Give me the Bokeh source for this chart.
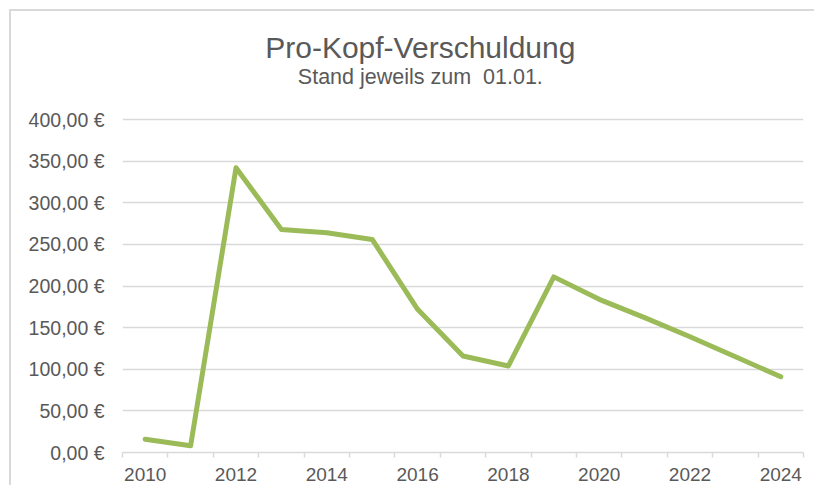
from bokeh.plotting import figure
from bokeh.models import Range1d, FixedTicker, Label, CustomJSTickFormatter
from bokeh.embed import file_html
from bokeh.resources import INLINE

# Data
years = list(range(2010, 2025))
debt = [16, 8, 342, 268, 264, 256, 172, 116, 104, 211, 184, 162, 139, 115, 91]
y_ticks = [0, 50, 100, 150, 200, 250, 300, 350, 400]
x_label_years = [2010, 2012, 2014, 2016, 2018, 2020, 2022, 2024]
title_text = "Pro-Kopf-Verschuldung"
subtitle_text = "Stand jeweils zum \u00a001.01."

FONT = "Liberation Sans"
GREY_TXT = "#595959"
GRID = "#D9D9D9"

# the frame reaches above the 400 line so that the title texts sit inside it
Y_TOP = 519
TITLE_X = 2016.06
TITLE_Y = 486.6
SUB_Y = 451.7

p = figure(width=805, height=476, output_backend="svg", toolbar_location=None,
           x_range=Range1d(years[0] - 0.5, years[-1] + 0.5),
           y_range=Range1d(0, Y_TOP),
           min_border_left=111, min_border_right=13, min_border_bottom=35, min_border_top=9)
p.title.visible = False
p.styles = {"margin-left": "11px", "margin-top": "11px",
            "margin-right": "-30px", "margin-bottom": "-30px",
            "box-shadow": "-2px -2px 0px 0px #D9D9D9"}

p.line(years, debt, line_color="#9BBB59", line_width=5, line_join="round", line_cap="round")

p.outline_line_color = None
p.background_fill_color = "white"
p.border_fill_color = "white"

p.add_layout(Label(x=TITLE_X, y=TITLE_Y, text=title_text,
                   text_align="center", text_baseline="alphabetic", text_font=FONT,
                   text_font_size="30px", text_color=GREY_TXT))
p.add_layout(Label(x=TITLE_X, y=SUB_Y, text=subtitle_text,
                   text_align="center", text_baseline="alphabetic", text_font=FONT,
                   text_font_size="21.5px", text_color=GREY_TXT))

# x axis
p.xaxis.ticker = FixedTicker(ticks=x_label_years,
                             minor_ticks=[y - 0.5 for y in years] + [years[-1] + 0.5])
p.xaxis.major_tick_line_color = None
p.xaxis.minor_tick_in = 0
p.xaxis.minor_tick_out = 5
p.xaxis.minor_tick_line_color = GRID
p.xaxis.minor_tick_line_width = 1.5
p.xaxis.axis_line_color = GRID
p.xaxis.axis_line_width = 1.5
p.xaxis.major_label_text_font = FONT
p.xaxis.major_label_text_font_size = "19px"
p.xaxis.major_label_text_color = GREY_TXT
p.xaxis.major_label_standoff = 9
p.xgrid.grid_line_color = None

# y axis
p.yaxis.ticker = FixedTicker(ticks=y_ticks)
p.yaxis.formatter = CustomJSTickFormatter(code="return tick.toFixed(2).replace('.', ',') + ' €';")
p.yaxis.axis_line_color = None
p.yaxis.major_tick_line_color = None
p.yaxis.minor_tick_line_color = None
p.yaxis.major_label_text_font = FONT
p.yaxis.major_label_text_font_size = "19.5px"
p.yaxis.major_label_text_color = GREY_TXT
p.yaxis.major_label_standoff = 12
p.ygrid.grid_line_color = GRID
p.ygrid.grid_line_width = 1.5

open("out.html", "w").write(file_html(p, INLINE))
